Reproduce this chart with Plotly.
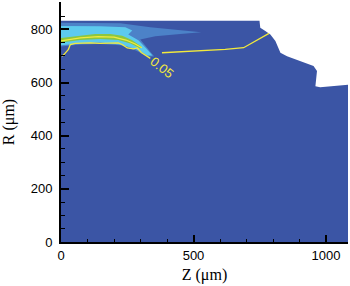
import plotly.graph_objects as go

# Domain outline (Z, R in micrometres)
domain_z = [0, 0, 749, 752, 771, 790, 809, 828, 853, 903, 953, 966, 960, 978, 1090, 1090, 0]
domain_r = [0, 832, 832, 806, 794, 781, 756, 712, 699, 680, 662, 643, 586, 582, 592, 0, 0]

# Medium-blue level region
mid_z = [0, 224, 337, 450, 529, 450, 356, 299, 322, 352, 329, 280, 224, 148, 73, 0]
mid_r = [825, 823, 808, 798, 789, 783, 774, 762, 736, 698, 698, 721, 740, 745, 743, 736]

# Cyan level region
cyan_z = [0, 148, 243, 269, 254, 292, 322, 345, 326, 284, 224, 148, 73, 0]
cyan_r = [813, 812, 808, 796, 781, 759, 728, 702, 702, 725, 743, 751, 747, 740]

# Green level band
green_z = [0, 73, 129, 186, 231, 269, 303, 299, 262, 216, 148, 73, 0]
green_r = [768, 777, 783, 783, 776, 759, 736, 728, 747, 760, 764, 760, 751]

# Inner contour line inside the green band
inner_z = [0, 73, 140, 200, 245, 280, 305]
inner_r = [757, 768, 773, 771, 760, 745, 731]

# 0.05 contour line, two segments
c1_z = [4, 12, 28, 35, 54, 111, 148, 216, 231, 250, 273, 288, 303, 322, 337]
c1_r = [699, 706, 725, 743, 747, 749, 747, 749, 743, 730, 727, 730, 713, 700, 691]
c2_z = [381, 470, 563, 620, 689, 741, 785]
c2_r = [712, 716, 721, 725, 731, 762, 785]

label_text = "0.05"
label_pos = (380, 655)

DARK = "#3B55A5"
MID = "#4C82C8"
CYAN = "#5DCAEE"
GREEN = "#8CC63F"
YEL = "#F3EA3C"

fig = go.Figure()

def poly(z, r, color):
    fig.add_trace(go.Scatter(x=z, y=r, mode="lines", fill="toself", fillcolor=color,
                             line=dict(width=0, color=color), hoverinfo="skip", showlegend=False))

poly(domain_z, domain_r, DARK)
poly(mid_z, mid_r, MID)
poly(cyan_z, cyan_r, CYAN)
poly(green_z, green_r, GREEN)

for z, r in [(inner_z, inner_r), (c1_z, c1_r), (c2_z, c2_r)]:
    fig.add_trace(go.Scatter(x=z, y=r, mode="lines", line=dict(width=1.3, color=YEL),
                             hoverinfo="skip", showlegend=False))

fig.add_annotation(x=label_pos[0], y=label_pos[1], text=label_text, showarrow=False,
                   textangle=38, font=dict(family="Liberation Sans", size=13, color=YEL))

fig.update_layout(
    width=350, height=286,
    margin=dict(l=61, r=2, t=2, b=44),
    paper_bgcolor="white", plot_bgcolor="white",
    font=dict(family="Liberation Sans", size=13, color="black"),
)
fig.update_xaxes(
    range=[0, 1083], tickmode="array", tickvals=[0, 500, 1000],
    ticks="inside", ticklen=7, tickwidth=1.5, tickcolor="black",
    minor=dict(tickmode="linear", dtick=100, ticklen=3, ticks="inside", tickcolor="black", tickwidth=1),
    showline=True, linecolor="black", linewidth=2, showgrid=False, zeroline=False,
    tickfont=dict(size=13), automargin=False,
    title=dict(text="Z (μm)", font=dict(family="Liberation Serif", size=16), standoff=7),
)
fig.update_yaxes(
    range=[0, 903], tickmode="array", tickvals=[0, 200, 400, 600, 800],
    ticks="inside", ticklen=8, tickwidth=1.5, tickcolor="black",
    minor=dict(tickmode="linear", dtick=50, ticklen=4, ticks="inside", tickcolor="black", tickwidth=1),
    showline=True, linecolor="black", linewidth=2, showgrid=False, zeroline=False,
    tickfont=dict(size=13), ticklabelstandoff=4, automargin=False,
    title=dict(text="R (μm)", font=dict(family="Liberation Serif", size=16), standoff=12),
)

fig.write_html("out.html", config={"displayModeBar": False},
               post_script="document.body.style.margin='0';document.body.style.overflow='hidden';")
